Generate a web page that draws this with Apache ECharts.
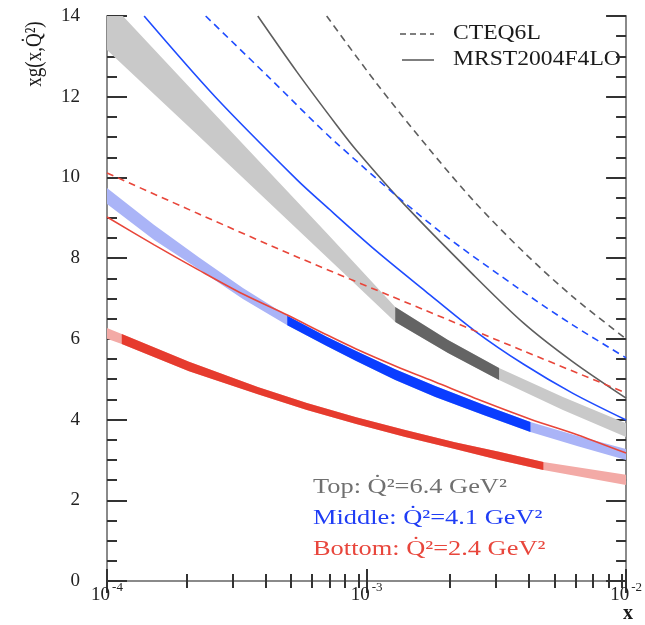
<!DOCTYPE html>
<html><head><meta charset="utf-8">
<script src="https://cdn.jsdelivr.net/npm/echarts@6/dist/echarts.min.js"></script>
<style>html,body{margin:0;padding:0;background:#fff}#c{width:645px;height:625px}</style>
</head><body><div id="c"></div>
<script>
// ---------- data ----------
const xTicksMajor = [1e-4, 1e-3, 1e-2];
const xTickExp = ['-4', '-3', '-2'];
const xTicksMinor = [2e-4,3e-4,4e-4,5e-4,6e-4,7e-4,8e-4,9e-4,2e-3,3e-3,4e-3,5e-3,6e-3,7e-3,8e-3,9e-3];

// CTEQ6L (dashed) and MRST2004F4LO (solid) curves
const cteqTopX = [7.02e-4, 1.09e-3, 1.73e-3, 2.61e-3, 4.03e-3, 6.24e-3, 1e-2];
const cteqTopY = [14.0, 12.34, 10.73, 9.39, 8.15, 7.04, 6.0];
const mrstTopX = [3.81e-4, 5.40e-4, 7.66e-4, 9.12e-4, 1.38e-3, 2.54e-3, 4.03e-3, 6.24e-3, 1e-2];
const mrstTopY = [14.0, 12.61, 11.30, 10.68, 9.37, 7.63, 6.39, 5.43, 4.53];
const cteqMidX = [2.40e-4, 4.16e-4, 7.66e-4, 1.84e-3, 4.03e-3, 6.24e-3, 1e-2];
const cteqMidY = [14.0, 12.51, 10.85, 8.75, 7.16, 6.34, 5.53];
const mrstMidX = [1.39e-4, 2.61e-4, 5.40e-4, 7.02e-4, 1.09e-3, 1.68e-3, 2.61e-3, 4.03e-3, 6.24e-3, 1e-2];
const mrstMidY = [14.0, 12.0, 9.94, 9.27, 8.18, 7.19, 6.20, 5.37, 4.65, 3.99];
const cteqBotX = [1e-4, 2.25e-4, 5.40e-4, 1.68e-3, 4.03e-3, 1e-2];
const cteqBotY = [10.11, 9.10, 8.03, 6.71, 5.70, 4.66];
const mrstBotX = [1e-4, 1.52e-4, 2.25e-4, 3.34e-4, 4.95e-4, 7.02e-4, 9.12e-4, 1.29e-3, 1.84e-3, 2.84e-3, 4.28e-3, 6.52e-3, 1e-2];
const mrstBotY = [9.02, 8.33, 7.71, 7.11, 6.59, 6.10, 5.75, 5.33, 4.93, 4.44, 4.01, 3.62, 3.17];

// fitted bands (light = extrapolation, dark = fitted range)
const bandTopX  = [1e-4, 2.25e-4, 7.02e-4, 1.29e-3, 2.06e-3, 3.24e-3, 5.71e-3, 1e-2];
const bandTopHi = [14.42, 12.0, 8.62, 6.79, 5.97, 5.28, 4.56, 3.91];
const bandTopLo = [13.16, 11.03, 8.03, 6.42, 5.65, 4.98, 4.24, 3.57];
const bandTopFit = [1.29e-3, 3.24e-3];
const bandMidX  = [1e-4, 1.52e-4, 2.25e-4, 3.34e-4, 4.95e-4, 7.02e-4, 9.12e-4, 1.29e-3, 1.84e-3, 2.84e-3, 4.28e-3, 6.52e-3, 1e-2];
const bandMidHi = [9.74, 8.82, 8.03, 7.26, 6.57, 6.05, 5.70, 5.25, 4.83, 4.36, 3.94, 3.59, 3.27];
const bandMidLo = [9.34, 8.45, 7.73, 6.99, 6.34, 5.82, 5.45, 4.98, 4.56, 4.11, 3.69, 3.34, 3.00];
const bandMidFit = [4.95e-4, 4.28e-3];
const bandBotX  = [1e-4, 1.14e-4, 2.07e-4, 3.81e-4, 5.89e-4, 9.12e-4, 1.41e-3, 2.19e-3, 3.24e-3, 4.80e-3, 1e-2];
const bandBotHi = [6.27, 6.12, 5.43, 4.81, 4.41, 4.06, 3.74, 3.44, 3.20, 2.95, 2.63];
const bandBotLo = [6.00, 5.87, 5.20, 4.63, 4.24, 3.89, 3.57, 3.27, 3.00, 2.75, 2.38];
const bandBotFit = [1.14e-4, 4.80e-3];

const legendNames = ['CTEQ6L', 'MRST2004F4LO'];
const annotations = ['Top: Q\u0307\u00B2=6.4 GeV\u00B2', 'Middle: Q\u0307\u00B2=4.1 GeV\u00B2', 'Bottom: Q\u0307\u00B2=2.4 GeV\u00B2'];

// ---------- chart ----------
const SERIF = '"Liberation Serif", "DejaVu Serif", serif';
const C = {
  grayLine: '#5e5e5e', blueLine: '#1f4cff', redLine: '#e8463a',
  grayLight: '#c9c9c9', grayDark: '#646464',
  blueLight: '#aab4f7', blueDark: '#0a3dff',
  redLight: '#f3aaa6', redDark: '#e63b2e'
};
const chart = echarts.init(document.getElementById('c'), null, {renderer: 'canvas'});

function pairs(xs, ys) { return xs.map((x, i) => [x, ys[i]]); }
function lineSeries(xs, ys, color, dashed) {
  return {
    type: 'line', xAxisIndex: 0, yAxisIndex: 0, data: pairs(xs, ys),
    showSymbol: false, symbol: 'none', smooth: 0.3, clip: true, silent: true, z: 5,
    lineStyle: {color: color, width: 1.6, type: dashed ? [7, 5] : 'solid'}
  };
}
function bandSeries(xs, lo, hi, fit, light, dark) {
  return {
    type: 'custom', xAxisIndex: 0, yAxisIndex: 0, clip: true, silent: true, z: 2,
    data: xs.map((x, i) => [x, lo[i], hi[i]]),
    encode: {x: 0, y: [1, 2]},
    renderItem: function (params, api) {
      if (params.dataIndex !== 0) return null;
      const poly = (idx) => {
        const up = idx.map(i => api.coord([xs[i], hi[i]]));
        const dn = idx.map(i => api.coord([xs[i], lo[i]])).reverse();
        return up.concat(dn);
      };
      const all = xs.map((_, i) => i);
      const fitIdx = all.filter(i => xs[i] >= fit[0] * 0.999 && xs[i] <= fit[1] * 1.001);
      const cs = params.coordSys;
      return {
        type: 'group',
        clipPath: {type: 'rect', shape: {x: cs.x, y: cs.y, width: cs.width, height: cs.height}},
        children: [
          {type: 'polygon', shape: {points: poly(all)}, style: {fill: light}},
          {type: 'polygon', shape: {points: poly(fitIdx)}, style: {fill: dark}}
        ]
      };
    }
  };
}

const gridRect = {left: 107, right: 11, top: 16, bottom: 44};
const axisLineStyle = {show: true, lineStyle: {color: '#8a8a8a', width: 2}};
const tickStyle = {color: '#333', width: 2};

function xAxisDef(grid, pos, len, values, labels) {
  return {
    type: 'log', logBase: 10, gridIndex: grid, position: pos, min: 1e-4, max: 1e-2,
    axisLine: grid === 0 ? axisLineStyle : {show: false},
    axisTick: {show: true, inside: true, length: len, lineStyle: tickStyle, customValues: values},
    splitLine: {show: false}, minorTick: {show: false},
    axisLabel: labels ? {
      show: true, customValues: values, margin: 0,
      formatter: function (v) {
        let k = 0;
        xTicksMajor.forEach((t, i) => { if (Math.abs(Math.log10(v) - Math.log10(t)) < 1e-6) k = i; });
        return '{b|10}{s|' + xTickExp[k] + '}';
      },
      rich: {
        b: {fontFamily: SERIF, fontSize: 19, color: '#222', lineHeight: 24, verticalAlign: 'bottom'},
        s: {fontFamily: SERIF, fontSize: 13, color: '#222', lineHeight: 13, verticalAlign: 'top', padding: [0, 0, 0, 2]}
      }
    } : {show: false}
  };
}
function yAxisDef(grid, pos, show, labels) {
  return {
    type: 'value', gridIndex: grid, position: pos, min: 0, max: 14, interval: 2, show: show,
    axisLine: axisLineStyle,
    axisTick: {show: true, inside: true, length: 20, lineStyle: tickStyle},
    minorTick: {show: true, splitNumber: 4, length: 10, lineStyle: tickStyle},
    splitLine: {show: false}, minorSplitLine: {show: false},
    axisLabel: labels ? {show: true, margin: 27, fontFamily: SERIF, fontSize: 19, color: '#222'} : {show: false}
  };
}

const option = {
  animation: false,
  backgroundColor: '#ffffff',
  grid: [Object.assign({}, gridRect), Object.assign({}, gridRect)],
  xAxis: [
    xAxisDef(0, 'bottom', 12, xTicksMajor, true),
    xAxisDef(0, 'top', 12, xTicksMajor, false),
    xAxisDef(1, 'bottom', 7, xTicksMinor, false),
    xAxisDef(1, 'top', 7, xTicksMinor, false)
  ],
  yAxis: [
    yAxisDef(0, 'left', true, true),
    yAxisDef(0, 'right', true, false),
    yAxisDef(1, 'left', false, false),
    yAxisDef(1, 'right', false, false)
  ],
  series: [
    bandSeries(bandTopX, bandTopLo, bandTopHi, bandTopFit, C.grayLight, C.grayDark),
    bandSeries(bandMidX, bandMidLo, bandMidHi, bandMidFit, C.blueLight, C.blueDark),
    bandSeries(bandBotX, bandBotLo, bandBotHi, bandBotFit, C.redLight, C.redDark),
    lineSeries(cteqTopX, cteqTopY, C.grayLine, true),
    lineSeries(mrstTopX, mrstTopY, C.grayLine, false),
    lineSeries(cteqMidX, cteqMidY, C.blueLine, true),
    lineSeries(mrstMidX, mrstMidY, C.blueLine, false),
    lineSeries(cteqBotX, cteqBotY, C.redLine, true),
    lineSeries(mrstBotX, mrstBotY, C.redLine, false)
  ],
  graphic: [
    {type: 'line', shape: {x1: 400, y1: 34, x2: 434, y2: 34}, style: {stroke: '#555', lineWidth: 1.5, lineDash: [6, 4]}},
    {type: 'line', shape: {x1: 402, y1: 60, x2: 434, y2: 60}, style: {stroke: '#555', lineWidth: 1.5}},
    {type: 'text', x: 453, y: 34, scaleX: 1.18, style: {text: legendNames[0], font: '20px ' + SERIF, fill: '#1a1a1a', verticalAlign: 'middle', align: 'left'}},
    {type: 'text', x: 453, y: 60, scaleX: 1.18, style: {text: legendNames[1], font: '20px ' + SERIF, fill: '#1a1a1a', verticalAlign: 'middle', align: 'left'}},
    {type: 'text', x: 313, y: 487, scaleX: 1.2, style: {text: annotations[0], font: '22px ' + SERIF, fill: '#707070', verticalAlign: 'middle', align: 'left'}},
    {type: 'text', x: 313, y: 518, scaleX: 1.2, style: {text: annotations[1], font: '22px ' + SERIF, fill: '#1f3df5', verticalAlign: 'middle', align: 'left'}},
    {type: 'text', x: 313, y: 549, scaleX: 1.2, style: {text: annotations[2], font: '22px ' + SERIF, fill: '#e8463c', verticalAlign: 'middle', align: 'left'}},
    {type: 'text', x: 35, y: 54, rotation: Math.PI / 2, scaleY: 1.18, style: {text: 'xg(x,Q\u0307\u00B2)', font: '19px ' + SERIF, fill: '#1a1a1a', verticalAlign: 'middle', align: 'center'}},
    {type: 'text', x: 628, y: 614, style: {text: 'x', font: 'bold 20px ' + SERIF, fill: '#1a1a1a', verticalAlign: 'middle', align: 'center'}}
  ]
};
chart.setOption(option);
</script></body></html>
